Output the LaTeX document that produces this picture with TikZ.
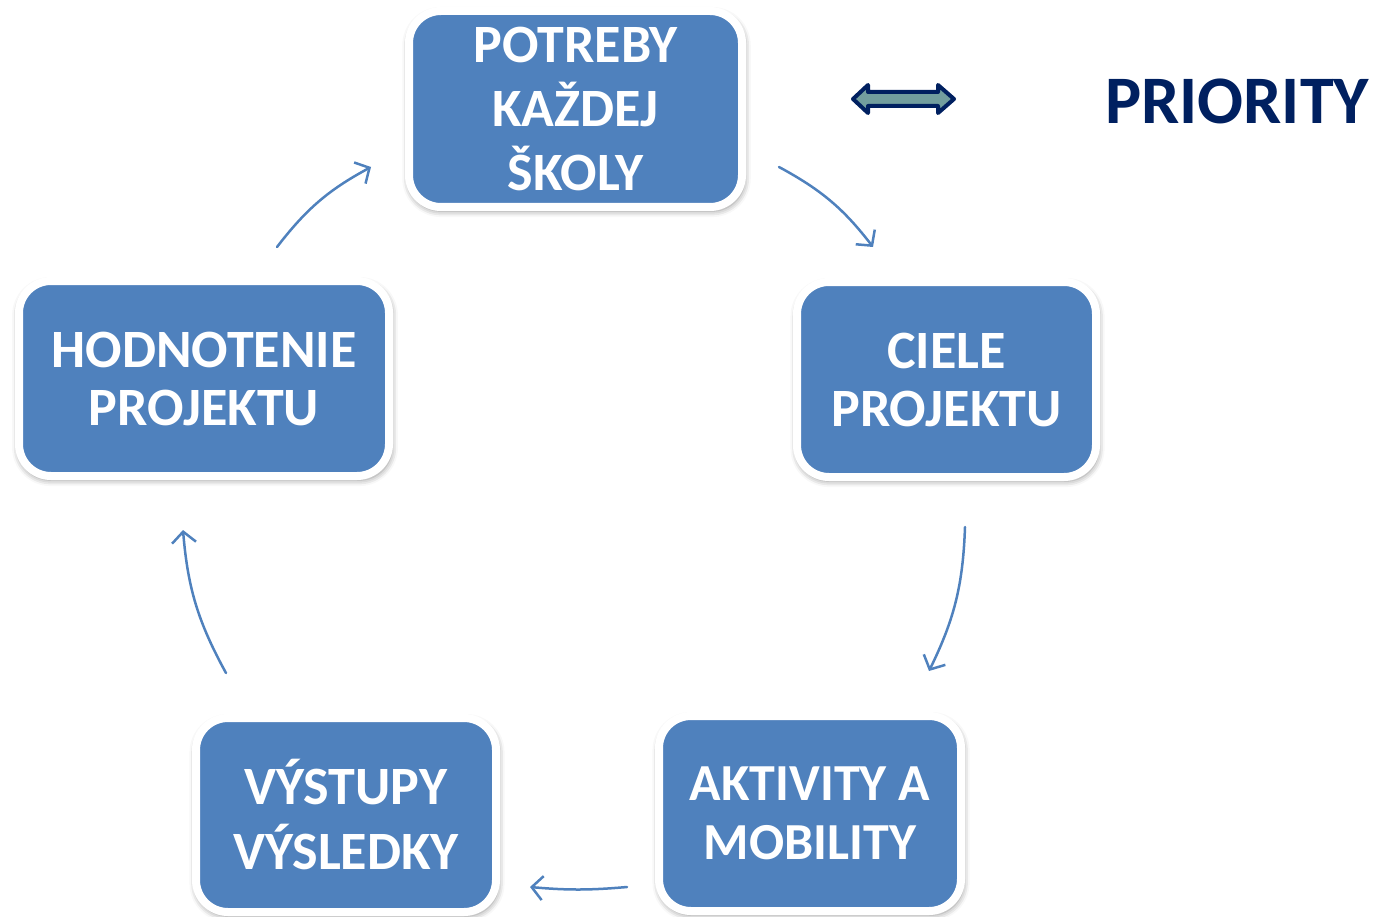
\documentclass[tikz,border=0pt]{standalone}
\usepackage{fontspec}
\setmainfont{Carlito}
\usetikzlibrary{arrows.meta,shadows.blur}
\definecolor{boxblue}{HTML}{4F81BD}
\definecolor{navy}{HTML}{002060}
\definecolor{teal}{HTML}{729E9E}
\tikzset{
  stagebox/.style={rounded corners=32pt, fill=boxblue, draw=white, line width=8pt,
    text=white, align=center, inner sep=0pt, font=\bfseries\fontsize{54}{64}\selectfont,
    blur shadow={shadow xshift=1pt, shadow yshift=-3pt, shadow blur radius=6pt, shadow opacity=45, shadow scale=1.01}},
  flow/.style={draw=boxblue, line width=2.5pt, line cap=round,
    -{Straight Barb[length=11pt,width=24pt,line width=2.5pt]}}
}
\begin{document}
\begin{tikzpicture}[x=1pt,y=-1pt]
\useasboundingbox (0,0) rectangle (1378,917);
\node[stagebox, minimum width=333pt, minimum height=196pt] (potreby) at (575.5,109) {POTREBY\\KAŽDEJ\\ŠKOLY};
\node[stagebox, minimum width=370pt, minimum height=195pt, font=\bfseries\fontsize{54}{58}\selectfont] (hodnotenie) at (204,378.5) {HODNOTENIE\\PROJEKTU};
\node[stagebox, minimum width=299pt, minimum height=195pt, font=\bfseries\fontsize{54}{58}\selectfont] (ciele) at (946.5,379.5) {CIELE\\PROJEKTU};
\node[stagebox, minimum width=302pt, minimum height=195pt, font=\bfseries\fontsize{52}{59}\selectfont] (aktivity) at (810,813.5) {AKTIVITY A\\MOBILITY};
\node[stagebox, minimum width=300pt, minimum height=194pt, font=\bfseries\fontsize{54}{65}\selectfont] (vystupy) at (346,815) {VÝSTUPY\\VÝSLEDKY};
\node[text=navy, font=\bfseries\fontsize{68}{74}\selectfont, inner sep=0pt] (priority) at (1237,101) {PRIORITY};
% double arrow
\draw[fill=teal, draw=navy, line width=4pt, line join=round]
  (853,99) -- (868,85) -- (868,92) -- (938,92) -- (938,85) -- (954,99)
  -- (938,113) -- (938,106) -- (868,106) -- (868,113) -- cycle;
% cycle connectors
\coordinate (a1) at (277,247); \coordinate (a2) at (371,167);
\coordinate (b1) at (779,167); \coordinate (b2) at (873,247);
\coordinate (c1) at (965,527); \coordinate (c2) at (929,671);
\coordinate (d1) at (627,887); \coordinate (d2) at (530,887);
\coordinate (e1) at (226,673); \coordinate (e2) at (183,530);
\draw[flow] (a1) to[bend left=12] (a2);
\draw[flow] (b1) to[bend left=12] (b2);
\draw[flow] (c1) to[bend left=12] (c2);
\draw[flow] (d1) to[bend left=5] (d2);
\draw[flow] (e1) to[bend left=12] (e2);
\end{tikzpicture}
\end{document}
